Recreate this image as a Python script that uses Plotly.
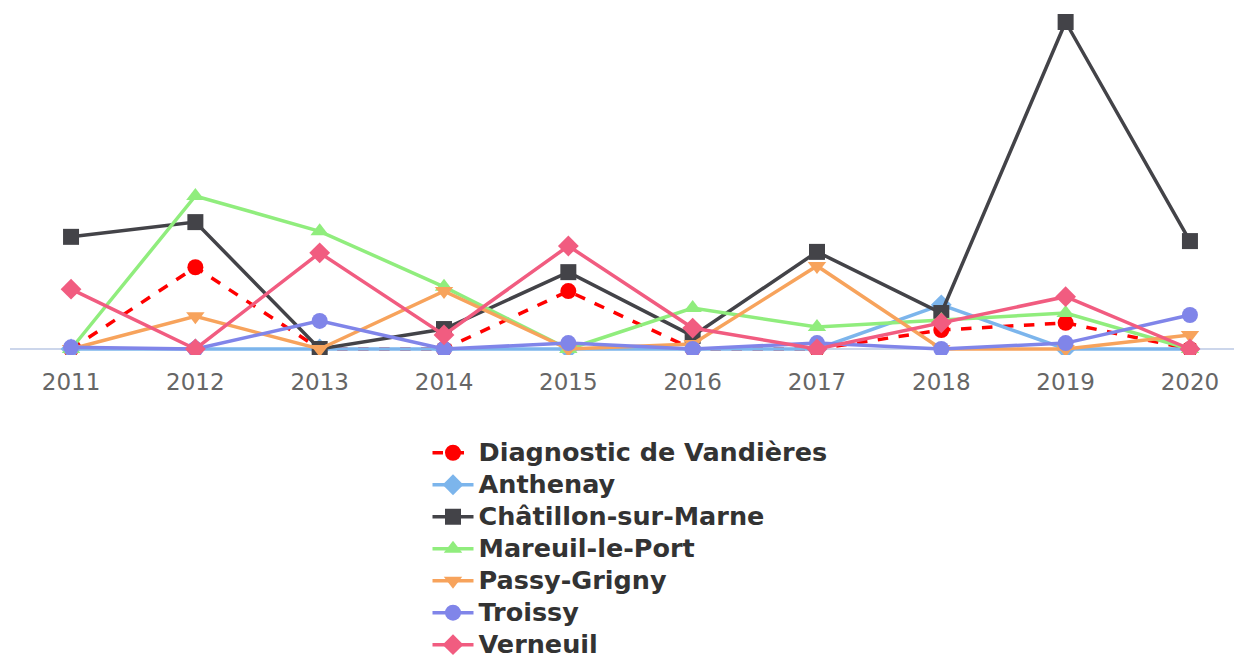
import plotly.graph_objects as go

years = [2011, 2012, 2013, 2014, 2015, 2016, 2017, 2018, 2019, 2020]

series_names = [
    "Diagnostic de Vandières",
    "Anthenay",
    "Châtillon-sur-Marne",
    "Mareuil-le-Port",
    "Passy-Grigny",
    "Troissy",
    "Verneuil",
]

diagnostic = [0, 25.0, 0, 0, 17.7, 0, 0, 5.8, 8.0, 0]
anthenay = [0, 0, 0, 0, 0, 0, 0, 13.5, 0, 0]
chatillon = [34.3, 38.8, 0, 6.1, 23.5, 4.0, 29.7, 11.0, 100.0, 33.0]
mareuil = [0, 46.8, 36.0, 19.0, 0, 12.5, 6.7, 8.9, 11.0, 0]
passy = [0, 10.0, 0, 17.7, 0, 1.5, 25.4, 0, 0, 4.3]
troissy = [0.5, 0, 8.6, 0, 1.8, 0, 1.8, 0, 1.8, 10.4]
verneuil = [18.3, 0, 29.4, 4.3, 31.5, 6.4, 0, 8.0, 16.0, 0]

values = [diagnostic, anthenay, chatillon, mareuil, passy, troissy, verneuil]
colors = ["#ff0000", "#7cb5ec", "#434348", "#90ed7d", "#f7a35c", "#8085e9", "#f15c80"]
symbols = ["circle", "diamond", "square", "triangle-up", "triangle-down", "circle", "diamond"]
dashes = ["dash", "solid", "solid", "solid", "solid", "solid", "solid"]
sizes = [16, 16, 16, 16, 16, 16, 16]

fig = go.Figure()
for name, vals, col, sym, dsh, sz in zip(series_names, values, colors, symbols, dashes, sizes):
    fig.add_trace(go.Scatter(
        x=years, y=vals, mode="lines+markers",
        name='<span style="font-size:25.5px">' + name + "</span>",
        line=dict(color=col, width=3.5, dash=dsh),
        marker=dict(color=col, symbol=sym, size=sz),
    ))

fig.update_layout(
    width=1242, height=657,
    margin=dict(l=2, r=0, t=2, b=310),
    paper_bgcolor="white", plot_bgcolor="white",
    showlegend=True,
    legend=dict(
        orientation="v", xanchor="center", x=0.5, yanchor="top", yref="container", y=0.355,
        font=dict(family="DejaVu Sans", size=22.3, color="#333333", weight="bold"),
        itemwidth=41, tracegroupgap=0,
    ),
    font=dict(family="DejaVu Sans"),
)
fig.update_xaxes(
    range=[2010.509, 2020.483], tickvals=years, showgrid=False, zeroline=False, showline=False,
    ticks="outside", ticklen=6, tickcolor="rgba(0,0,0,0)",
    tickfont=dict(family="DejaVu Sans", size=23, color="#666666"),
)
fig.update_yaxes(
    range=[-1.835, 103.67], showgrid=False, showticklabels=False,
    zeroline=True, zerolinecolor="#ccd6eb", zerolinewidth=1.5, showline=False,
)

fig.write_html("out.html")
